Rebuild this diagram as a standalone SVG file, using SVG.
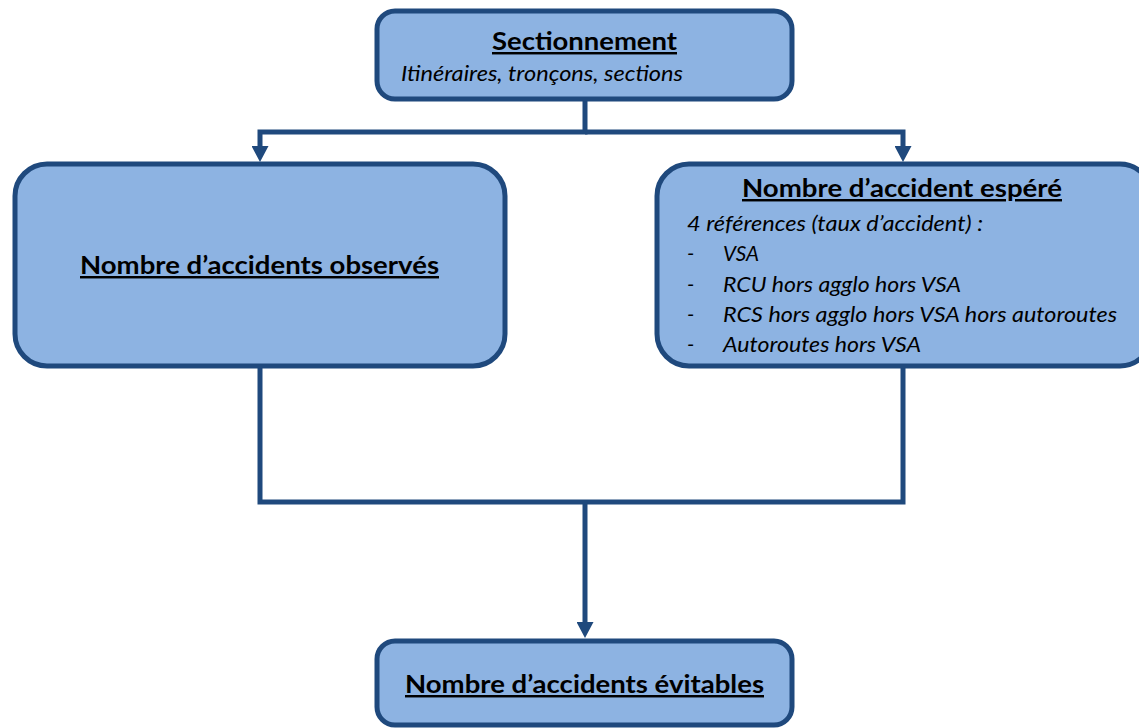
<svg xmlns="http://www.w3.org/2000/svg" width="1139" height="728" viewBox="0 0 1139 728">
<defs>
<marker id="arr" markerUnits="userSpaceOnUse" markerWidth="16" markerHeight="17" viewBox="0 0 16 17" refX="0" refY="8.5" orient="auto">
<path d="M0,0 L16,8.5 L0,17 z" fill="#1F497D"/>
</marker>
<style>
.box{fill:#8DB3E2;stroke:#1F497D;stroke-width:5}
.conn{fill:none;stroke:#1F497D;stroke-width:5;stroke-linejoin:miter}
.t{font-family:Lato,"Open Sans","Liberation Sans",sans-serif;font-weight:bold;font-size:24.5px;fill:#000;text-decoration:underline}
.i{font-family:Lato,"Open Sans","Liberation Sans",sans-serif;font-style:italic;font-size:21px;fill:#000}
</style>
</defs>
<rect width="1139" height="728" fill="#FFFFFF"/>
<g id="connectors">
<path class="conn" d="M585,100 V132 H260 V146" marker-end="url(#arr)"/>
<path class="conn" d="M585,132 H903 V146" marker-end="url(#arr)"/>
<path class="conn" d="M260,366 V502 H903 V366"/>
<path class="conn" d="M585,502 V622" marker-end="url(#arr)"/>
</g>
<g id="sectionnement">
<rect class="box" x="377" y="11" width="415" height="88" rx="18"/>
<text class="t" x="492" y="50" textLength="185" lengthAdjust="spacingAndGlyphs">Sectionnement</text>
<text class="i" x="401" y="81" textLength="282" lengthAdjust="spacingAndGlyphs">Itinéraires, tronçons, sections</text>
</g>
<g id="observes">
<rect class="box" x="15" y="164" width="490" height="202" rx="32"/>
<text class="t" x="80" y="274" textLength="359" lengthAdjust="spacingAndGlyphs">Nombre d’accidents observés</text>
</g>
<g id="espere">
<rect class="box" x="657" y="164" width="495" height="202" rx="32"/>
<text class="t" x="742" y="197" textLength="320" lengthAdjust="spacingAndGlyphs">Nombre d’accident espéré</text>
<text class="i" x="687" y="231" textLength="296" lengthAdjust="spacingAndGlyphs">4 références (taux d’accident) :</text>
<text class="i" x="687" y="261">-</text>
<text class="i" x="723" y="261" textLength="36" lengthAdjust="spacingAndGlyphs">VSA</text>
<text class="i" x="687" y="292">-</text>
<text class="i" x="723" y="292" textLength="238" lengthAdjust="spacingAndGlyphs">RCU hors agglo hors VSA</text>
<text class="i" x="687" y="322">-</text>
<text class="i" x="723" y="322" textLength="394" lengthAdjust="spacingAndGlyphs">RCS hors agglo hors VSA hors autoroutes</text>
<text class="i" x="687" y="352">-</text>
<text class="i" x="723" y="352" textLength="198" lengthAdjust="spacingAndGlyphs">Autoroutes hors VSA</text>
</g>
<g id="evitables">
<rect class="box" x="377" y="641" width="415" height="84" rx="18"/>
<text class="t" x="405" y="693" textLength="359" lengthAdjust="spacingAndGlyphs">Nombre d’accidents évitables</text>
</g>
</svg>
